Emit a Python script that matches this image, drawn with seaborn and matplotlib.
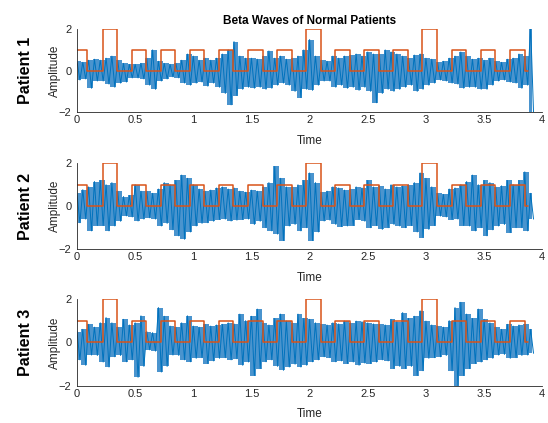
import numpy as np
import pandas as pd
import seaborn as sns
import matplotlib
matplotlib.use('Agg')
import matplotlib.pyplot as plt

sns.set_theme(style='white')
plt.rcParams['font.family'] = ['Liberation Sans', 'DejaVu Sans']

# Sampling step of the envelope readings (seconds)
dt = 0.05

# Upper / lower envelope of the beta signal, one value per 0.05 s bin
p1_upper = [0.45, 0.4, 0.5, 0.55, 0.5, 0.6, 0.7, 0.5, 0.35, 0.3,
            0.3, 0.35, 0.6, 1.0, 0.45, 0.35, 0.3, 0.35, 0.5, 0.8,
            0.7, 0.5, 0.6, 0.5, 0.6, 0.8, 1.0, 1.4, 0.7, 0.6,
            0.6, 0.55, 0.7, 0.95, 0.6, 0.7, 0.55, 0.6, 0.7, 1.0,
            1.5, 0.7, 0.5, 0.45, 0.7, 0.6, 0.7, 0.75, 0.8, 0.7,
            0.9, 0.8, 0.8, 1.0, 0.9, 0.8, 0.7, 0.6, 0.75, 0.8,
            0.6, 0.55, 0.4, 0.45, 0.6, 0.7, 0.9, 0.7, 0.55, 0.6,
            0.5, 0.6, 0.45, 0.4, 0.55, 0.6, 0.8, 0.7, 2.2]
p1_lower = [-0.45, -0.4, -0.85, -0.5, -0.5, -0.65, -0.8, -0.6, -0.55, -0.35,
            -0.35, -0.4, -0.7, -0.9, -0.5, -0.4, -0.3, -0.35, -0.6, -0.7,
            -0.6, -0.55, -0.75, -0.6, -0.8, -1.1, -1.65, -1.2, -0.9, -0.8,
            -0.85, -0.8, -0.9, -0.85, -0.7, -0.6, -0.7, -1.0, -1.3, -0.9,
            -0.95, -0.7, -0.5, -0.5, -0.8, -0.7, -0.85, -0.8, -0.95, -0.8,
            -1.0, -1.55, -1.1, -0.9, -1.0, -0.9, -0.8, -0.7, -1.0, -0.9,
            -0.7, -0.6, -0.45, -0.5, -0.6, -0.65, -0.85, -0.8, -0.8, -0.9,
            -0.9, -0.7, -0.5, -0.45, -0.55, -0.6, -0.85, -0.7, -2.0]

p2_upper = [0.6, 0.77, 0.9, 1.15, 1.2, 1.0, 1.1, 0.7, 0.45, 0.5,
            1.0, 0.7, 0.7, 0.6, 0.8, 1.1, 1.0, 1.2, 1.45, 1.3,
            1.0, 0.8, 0.7, 0.75, 0.85, 0.9, 0.8, 0.85, 0.7, 0.65,
            0.75, 0.7, 0.9, 1.1, 1.85, 1.3, 0.9, 0.9, 1.0, 1.2,
            1.55, 1.1, 0.65, 0.7, 0.9, 0.85, 0.75, 0.8, 0.9, 0.85,
            1.2, 0.9, 0.95, 0.8, 1.0, 0.9, 0.95, 1.0, 1.1, 1.55,
            1.3, 0.9, 0.6, 0.55, 0.8, 0.85, 1.0, 1.15, 1.45, 1.0,
            1.2, 1.1, 0.9, 0.95, 1.2, 1.0, 1.2, 1.6, 0.6]
p2_lower = [-0.77, -0.6, -1.15, -0.9, -0.9, -1.15, -0.92, -0.7, -0.45, -0.5,
            -0.69, -0.6, -0.54, -0.6, -0.92, -0.8, -1.1, -1.38, -1.54, -1.2,
            -0.92, -0.8, -0.77, -0.7, -0.62, -0.6, -0.69, -0.65, -0.62, -0.6,
            -0.85, -0.7, -1.0, -1.15, -1.3, -1.6, -0.92, -0.85, -1.15, -1.0,
            -1.6, -1.2, -0.69, -0.65, -0.85, -0.95, -0.92, -0.9, -0.62, -0.7,
            -1.0, -0.9, -1.08, -1.0, -0.85, -0.92, -1.0, -0.9, -1.2, -1.46,
            -1.08, -0.9, -0.46, -0.5, -0.62, -0.6, -0.9, -0.92, -1.15, -1.0,
            -1.38, -1.1, -0.92, -0.85, -1.23, -1.0, -1.0, -1.15, -0.6]

p3_upper = [0.5, 0.6, 0.83, 0.7, 0.9, 1.14, 0.9, 0.7, 1.06, 0.8,
            0.9, 1.22, 0.5, 0.45, 1.6, 1.2, 0.75, 0.7, 0.9, 1.22,
            0.75, 0.7, 0.83, 0.75, 0.8, 0.83, 0.9, 0.85, 1.3, 1.0,
            1.2, 1.53, 0.9, 0.8, 1.1, 1.3, 0.98, 0.9, 1.3, 1.1,
            1.06, 0.9, 0.83, 0.8, 0.9, 0.85, 0.98, 0.9, 0.98, 0.95,
            0.9, 0.85, 0.83, 0.8, 1.06, 0.95, 1.37, 1.1, 1.2, 1.45,
            0.98, 0.8, 0.75, 0.7, 1.0, 1.6, 1.84, 1.3, 1.1, 1.53,
            1.06, 0.9, 0.7, 0.6, 0.83, 0.75, 0.8, 0.83, 0.6]
p3_lower = [-0.8, -1.05, -0.58, -0.6, -0.9, -1.13, -0.66, -0.6, -0.89, -0.8,
            -1.6, -1.1, -0.34, -0.4, -1.36, -1.1, -0.58, -0.6, -0.8, -0.89,
            -0.73, -0.7, -0.97, -0.85, -0.73, -0.7, -0.8, -0.75, -1.05, -0.9,
            -1.52, -1.2, -0.89, -0.8, -1.1, -1.28, -1.13, -1.0, -1.13, -1.05,
            -0.89, -0.8, -0.66, -0.7, -0.89, -0.85, -0.97, -0.9, -1.05, -0.95,
            -0.97, -0.9, -0.8, -0.85, -1.2, -1.1, -1.2, -1.1, -1.52, -1.3,
            -0.73, -0.7, -0.66, -0.6, -1.3, -1.98, -1.52, -1.2, -0.97, -0.9,
            -0.8, -0.73, -0.58, -0.55, -0.73, -0.7, -0.6, -0.58, -0.5]

# Stimulus marker (orange square wave): edges in seconds and levels
step_t = [0, 0.09, 0.22, 0.345, 0.47, 0.595, 0.72, 0.845, 0.97, 1.095,
          1.22, 1.345, 1.47, 1.595, 1.72, 1.845, 1.97, 2.095, 2.22, 2.345,
          2.47, 2.595, 2.72, 2.845, 2.97, 3.095, 3.22, 3.345, 3.47, 3.595,
          3.72, 3.85, 3.88]
step_v = [1, 0, 2, 0, 1, 0, 1, 0, 1, 0,
          1, 0, 1, 0, 1, 0, 2, 0, 1, 0,
          1, 0, 1, 0, 2, 0, 1, 0, 1, 0,
          1, 0, 0]

patients = ['Patient 1', 'Patient 2', 'Patient 3']
uppers = [p1_upper, p2_upper, p3_upper]
lowers = [p1_lower, p2_lower, p3_lower]

x_ticks = [0, 0.5, 1, 1.5, 2, 2.5, 3, 3.5, 4]
x_tick_labels = ['0', '0.5', '1', '1.5', '2', '2.5', '3', '3.5', '4']
y_ticks = [-2, 0, 2]

blue = '#0072BD'
light_blue = '#2a82c6'
orange = '#D95319'
axis_col = '#262626'

fig = plt.figure(figsize=(5.48, 4.23), dpi=100)
# axes boxes [left, bottom, width, height] in figure fraction
boxes = [[0.1405, 0.735, 0.849, 0.196],
         [0.1405, 0.411, 0.849, 0.203],
         [0.1405, 0.0875, 0.849, 0.206]]

steps = pd.DataFrame({'t': step_t, 'v': step_v})

for i, name in enumerate(patients):
    ax = fig.add_axes(boxes[i])
    up = uppers[i]
    lo = lowers[i]
    # zigzag between the read upper and lower envelope values
    t = []
    v = []
    for k in range(len(up)):
        t += [k * dt, k * dt + dt / 2]
        v += [up[k], lo[k]]
    sig = pd.DataFrame({'t': t, 'v': v})

    # filled per-bin envelope behind the trace so the band reads dense
    t_bins = np.arange(len(up)) * dt + dt / 4
    ax.fill_between(t_bins, lo, up, color=light_blue, alpha=0.85, linewidth=0,
                    step='mid')
    sns.lineplot(data=sig, x='t', y='v', ax=ax, color=blue, linewidth=0.7,
                 estimator=None, sort=False)
    sns.lineplot(data=steps, x='t', y='v', ax=ax, color=orange, linewidth=1.1,
                 estimator=None, sort=False, drawstyle='steps-post')

    ax.set_xlim(0, 4)
    ax.set_ylim(-2, 2)
    ax.set_xticks(x_ticks)
    ax.set_xticklabels(x_tick_labels)
    ax.set_yticks(y_ticks)
    ax.tick_params(direction='in', length=3, width=0.6, labelsize=8,
                   colors=axis_col, pad=2)
    ax.tick_params(axis='y', pad=4)
    for s in ['top', 'right']:
        ax.spines[s].set_visible(False)
    for s in ['left', 'bottom']:
        ax.spines[s].set_color(axis_col)
        ax.spines[s].set_linewidth(0.6)
    ax.set_xlabel('Time', fontsize=8.5, color=axis_col, labelpad=7)
    ax.set_ylabel('Amplitude', fontsize=8.5, color=axis_col, labelpad=-2)

    # big patient label to the left
    b = boxes[i]
    fig.text(0.047, b[1] + b[3] / 2, name, rotation=90, ha='center', va='center',
             fontsize=11.5, fontweight='bold', color='black')

    if i == 0:
        ax.set_title('Beta Waves of Normal Patients', fontsize=8.5,
                     fontweight='bold', color='black', pad=4)

plt.savefig('out.png', dpi=100)
